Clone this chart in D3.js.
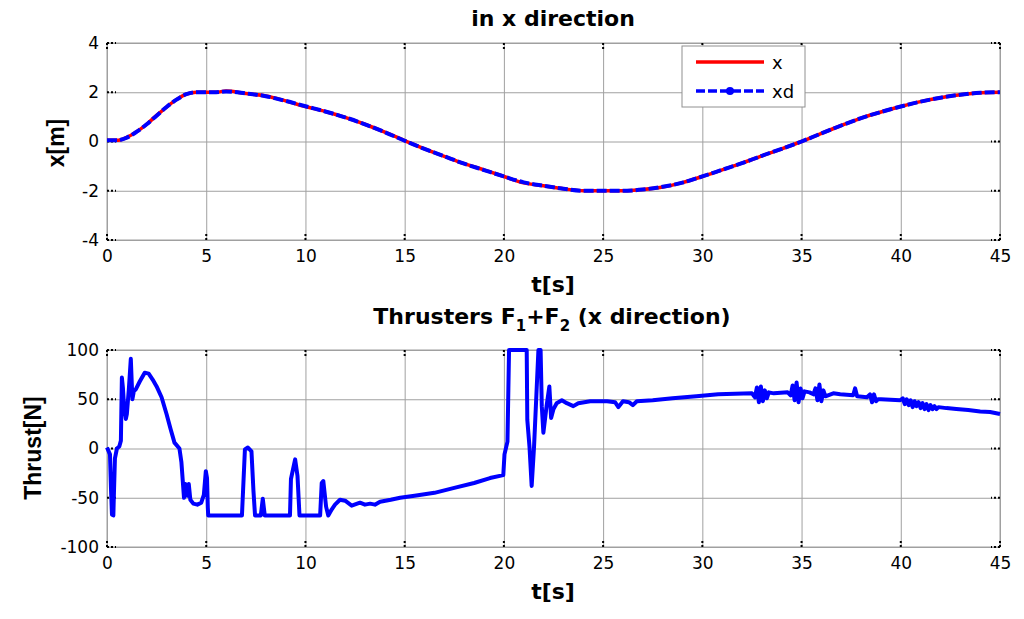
<!DOCTYPE html>
<html>
<head>
<meta charset="utf-8">
<script src="https://cdn.jsdelivr.net/npm/d3@7"></script>
<style>
  body { margin: 0; background: #fff; }
  svg { font-family: 'DejaVu Sans', sans-serif; }
  .tick text { font-size: 17px; fill: #000; font-family: 'DejaVu Sans', sans-serif; }
  .grid line { stroke: #a0a0a0; stroke-width: 1; }
</style>
</head>
<body>
<div id="chart"></div>
<script>
'use strict';

// top panel: position vs desired position
const xTime = [0, 0.5, 1, 1.5, 2, 2.5, 3, 3.5, 4, 4.5, 5, 5.5, 6,
  7, 8, 9, 10, 11, 12, 13, 14, 15, 16, 17, 18, 19, 20, 21, 22, 23, 24, 25, 26,
  27, 28, 29, 30, 31, 32, 33, 34, 35, 36, 37, 38, 39, 40, 41, 42, 43, 44, 45];
const xPos = [0.05, 0.05, 0.17, 0.4, 0.7, 1.06, 1.4, 1.7, 1.92, 2.0, 2.0, 2.0, 2.05,
  1.95, 1.85, 1.65, 1.42, 1.22, 0.98, 0.7, 0.38, 0.04, -0.3, -0.6, -0.9, -1.15, -1.42,
  -1.68, -1.8, -1.92, -2.0, -2.0, -2.0, -1.95, -1.85, -1.67, -1.42, -1.15, -0.88, -0.58,
  -0.3, 0.0, 0.33, 0.65, 0.95, 1.2, 1.42, 1.62, 1.78, 1.9, 1.98, 2.0];
const xDesired = [0.05, 0.05, 0.16, 0.4, 0.7, 1.05, 1.4, 1.7, 1.92, 2.0, 2.0, 2.0, 2.03,
  1.95, 1.84, 1.65, 1.43, 1.22, 0.98, 0.7, 0.38, 0.03, -0.3, -0.6, -0.9, -1.16, -1.42,
  -1.66, -1.8, -1.92, -2.0, -2.0, -2.0, -1.95, -1.84, -1.67, -1.42, -1.15, -0.88, -0.58,
  -0.3, 0.0, 0.33, 0.65, 0.95, 1.2, 1.42, 1.62, 1.78, 1.9, 1.98, 2.0];

// bottom panel: thrust F1+F2
const thrustTime = [0, 0.15, 0.2, 0.25, 0.32, 0.35, 0.4, 0.5, 0.62, 0.7, 0.75, 0.8, 0.86, 0.95,
  1.0, 1.1, 1.2, 1.28, 1.35, 1.45, 1.65, 1.9, 2.1, 2.3, 2.5, 2.75, 3.0, 3.2, 3.4, 3.65,
  3.75, 3.88, 3.95, 4.05, 4.12, 4.2, 4.35, 4.55, 4.75, 4.88, 4.98, 5.04, 5.08, 5.1,
  6.8, 6.95, 7.1, 7.28, 7.38, 7.46, 7.75, 7.85, 7.95, 9.22, 9.27, 9.48, 9.6, 9.7,
  10.74, 10.82, 10.9, 11.04, 11.15, 11.32, 11.49, 11.74, 12.0, 12.33, 12.75, 13.0, 13.26, 13.5,
  13.76, 14.3, 14.77, 15.5, 16.5, 17.5, 18.5, 19.3, 19.97, 20.03, 20.18, 20.26, 21.15,
  21.18, 21.29, 21.4, 21.52, 21.74, 21.85, 21.91, 21.99, 22.15, 22.29, 22.38, 22.5, 22.66,
  22.92, 23.17, 23.5, 23.75, 24.35, 25.2, 25.6, 25.77, 26.0, 26.3, 26.5, 26.7, 27.5,
  28.5, 29.7, 30.8, 32.5, 32.65, 32.75, 32.85, 32.95, 33.05, 33.15, 33.25, 33.35, 33.6,
  34.3, 34.45, 34.55, 34.65, 34.75, 34.85, 34.95, 35.05, 35.15, 35.4, 35.6, 35.7, 35.8,
  35.9, 36.0, 36.1, 36.2, 36.6, 36.95, 37.6, 37.7, 37.8, 38.3, 38.45, 38.55, 38.65, 38.75,
  38.85, 39.0, 39.97, 40.1, 40.2, 40.3, 40.4, 40.5, 40.6, 40.7, 40.8, 40.9, 41.0, 41.1,
  41.2, 41.3, 41.4, 41.5, 41.6, 41.7, 41.8, 41.9, 42.3, 42.8, 43.4, 44.0, 44.5, 45.0];
const thrustForce = [1, -6, -40, -67, -68, -45, -10, 0, 2, 8, 72, 62, 43, 30,
  35, 60, 91, 50, 58, 60, 68, 77, 76, 70, 63, 52, 35, 20, 6, 0,
  -14, -50, -36, -48, -36, -52, -56, -57, -55, -47, -23, -30, -60, -68,
  -68, -1, 1, -3, -43, -68, -68, -51, -68, -68, -31, -11, -28, -68,
  -68, -35, -33, -59, -68, -62, -57, -52, -53, -58, -55, -57, -56, -57,
  -54, -52, -50, -48, -45, -40, -35, -30, -27, -6, 7, 100, 100,
  29, 2, -38, 2, 100, 100, 43, 16, 43, 63, 31, 40, 46,
  49, 46, 43, 46, 48, 48, 47, 42, 48, 47, 44, 48, 49,
  51, 53, 55, 56, 52, 62, 47, 63, 48, 59, 51, 57, 56,
  57, 54, 64, 49, 67, 47, 61, 51, 58, 57, 55, 61, 49,
  65, 48, 59, 53, 56, 55, 54, 61, 53, 52, 55, 47, 55, 48,
  50, 50, 49, 51, 45, 50, 44, 49, 42, 48, 43, 47, 41, 46,
  40, 45, 39, 44, 40, 43, 40, 42, 41, 40, 39, 37.5, 37, 35];

const timeTicks = [0, 5, 10, 15, 20, 25, 30, 35, 40, 45];
const posTicks = [-4, -2, 0, 2, 4];
const thrustTicks = [-100, -50, 0, 50, 100];
const legendNames = ['x', 'xd'];

const width = 1024, height = 619;
const svg = d3.select('#chart').append('svg').attr('width', width).attr('height', height);
const plain = d => String(d);

function panel(top, bottom, yDomain, yTicks) {
  const x = d3.scaleLinear().domain([0, 45]).range([107, 1000]);
  const y = d3.scaleLinear().domain(yDomain).range([bottom, top]);
  const g = svg.append('g');

  // grid
  g.append('g').classed('grid', true)
    .attr('transform', `translate(0,${bottom})`)
    .call(d3.axisBottom(x).tickValues(timeTicks).tickSize(-(bottom - top)).tickFormat(''))
    .call(s => s.select('.domain').remove());
  g.append('g').classed('grid', true)
    .attr('transform', 'translate(107,0)')
    .call(d3.axisLeft(y).tickValues(yTicks).tickSize(-(1000 - 107)).tickFormat(''))
    .call(s => s.select('.domain').remove());

  // frame
  g.append('rect').attr('x', 107).attr('y', top).attr('width', 893).attr('height', bottom - top)
    .style('fill', 'none').style('stroke', '#a0a0a0');

  // little black tick marks on all four sides
  const tk = g.append('g').style('stroke', '#000').style('stroke-width', 2).style('stroke-dasharray', '2,2');
  timeTicks.forEach(t => {
    tk.append('line').attr('x1', x(t)).attr('x2', x(t)).attr('y1', top).attr('y2', top + 7);
    tk.append('line').attr('x1', x(t)).attr('x2', x(t)).attr('y1', bottom).attr('y2', bottom - 7);
  });
  yTicks.forEach(v => {
    tk.append('line').attr('x1', 107).attr('x2', 116).attr('y1', y(v)).attr('y2', y(v));
    tk.append('line').attr('x1', 1000).attr('x2', 991).attr('y1', y(v)).attr('y2', y(v));
  });

  // tick labels
  g.append('g').attr('transform', `translate(0,${bottom})`)
    .call(d3.axisBottom(x).tickValues(timeTicks).tickFormat(plain).tickSize(0).tickPadding(10))
    .call(s => s.select('.domain').remove());
  g.append('g').attr('transform', 'translate(107,0)')
    .call(d3.axisLeft(y).tickValues(yTicks).tickFormat(plain).tickSize(0).tickPadding(8))
    .call(s => s.select('.domain').remove());

  return { x, y, g };
}

// ---- top panel ----
const p1 = panel(43, 240, [-4, 4], posTicks);
const posLine = d3.line().x(d => p1.x(d[0])).y(d => p1.y(d[1])).curve(d3.curveMonotoneX);

p1.g.append('path').datum(xTime.map((t, i) => [t, xPos[i]]))
  .attr('d', posLine).style('fill', 'none').style('stroke', '#ff0000').style('stroke-width', 3.5);
p1.g.append('path').datum(xTime.map((t, i) => [t, xDesired[i]]))
  .attr('d', posLine).style('fill', 'none').style('stroke', '#0000ff').style('stroke-width', 4)
  .style('stroke-dasharray', '10,3');

// legend
const lg = p1.g.append('g');
lg.append('rect').attr('x', 682).attr('y', 46).attr('width', 123).attr('height', 61)
  .style('fill', '#fff').style('stroke', '#909090');
lg.append('line').attr('x1', 696).attr('x2', 764).attr('y1', 62).attr('y2', 62)
  .style('stroke', '#ff0000').style('stroke-width', 3.5);
lg.append('line').attr('x1', 696).attr('x2', 764).attr('y1', 91).attr('y2', 91)
  .style('stroke', '#0000ff').style('stroke-width', 3.5).style('stroke-dasharray', '9,3');
lg.append('circle').attr('cx', 730).attr('cy', 91).attr('r', 4).style('fill', '#0000ff');
legendNames.forEach((n, i) => {
  lg.append('text').attr('x', 772).attr('y', 69 + i * 29).style('font-size', '18px').text(n);
});

// ---- bottom panel ----
const p2 = panel(350, 547, [-100, 100], thrustTicks);
const thrustLine = d3.line().x(d => p2.x(d[0])).y(d => p2.y(d[1]));
p2.g.append('path').datum(thrustTime.map((t, i) => [t, thrustForce[i]]))
  .attr('d', thrustLine).style('fill', 'none').style('stroke', '#0000ff')
  .style('stroke-width', 4).style('stroke-linejoin', 'round');

// ---- titles and axis labels ----
const bold = s => s.style('font-weight', 'bold').style('font-size', '22px').attr('text-anchor', 'middle');
const boldRot = s => s.style('font-weight', 'bold').style('font-size', '23px').attr('text-anchor', 'middle')
  .style('font-family', "'Liberation Sans', Arial, sans-serif");

svg.append('text').attr('x', 553).attr('y', 26).call(bold).text('in x direction');
svg.append('text').attr('x', 553).attr('y', 292).call(bold).text('t[s]');
svg.append('text').attr('x', 553).attr('y', 599).call(bold).text('t[s]');

const t2 = svg.append('text').attr('x', 552).attr('y', 324).call(bold);
t2.append('tspan').text('Thrusters F');
t2.append('tspan').attr('dy', 7).style('font-size', '15px').text('1');
t2.append('tspan').attr('dy', -7).text('+F');
t2.append('tspan').attr('dy', 7).style('font-size', '15px').text('2');
t2.append('tspan').attr('dy', -7).text(' (x direction)');

svg.append('text').attr('transform', 'translate(64,143) rotate(-90)').call(boldRot).text('x[m]');
svg.append('text').attr('transform', 'translate(41,448) rotate(-90)').call(boldRot).text('Thrust[N]');
</script>
</body>
</html>
